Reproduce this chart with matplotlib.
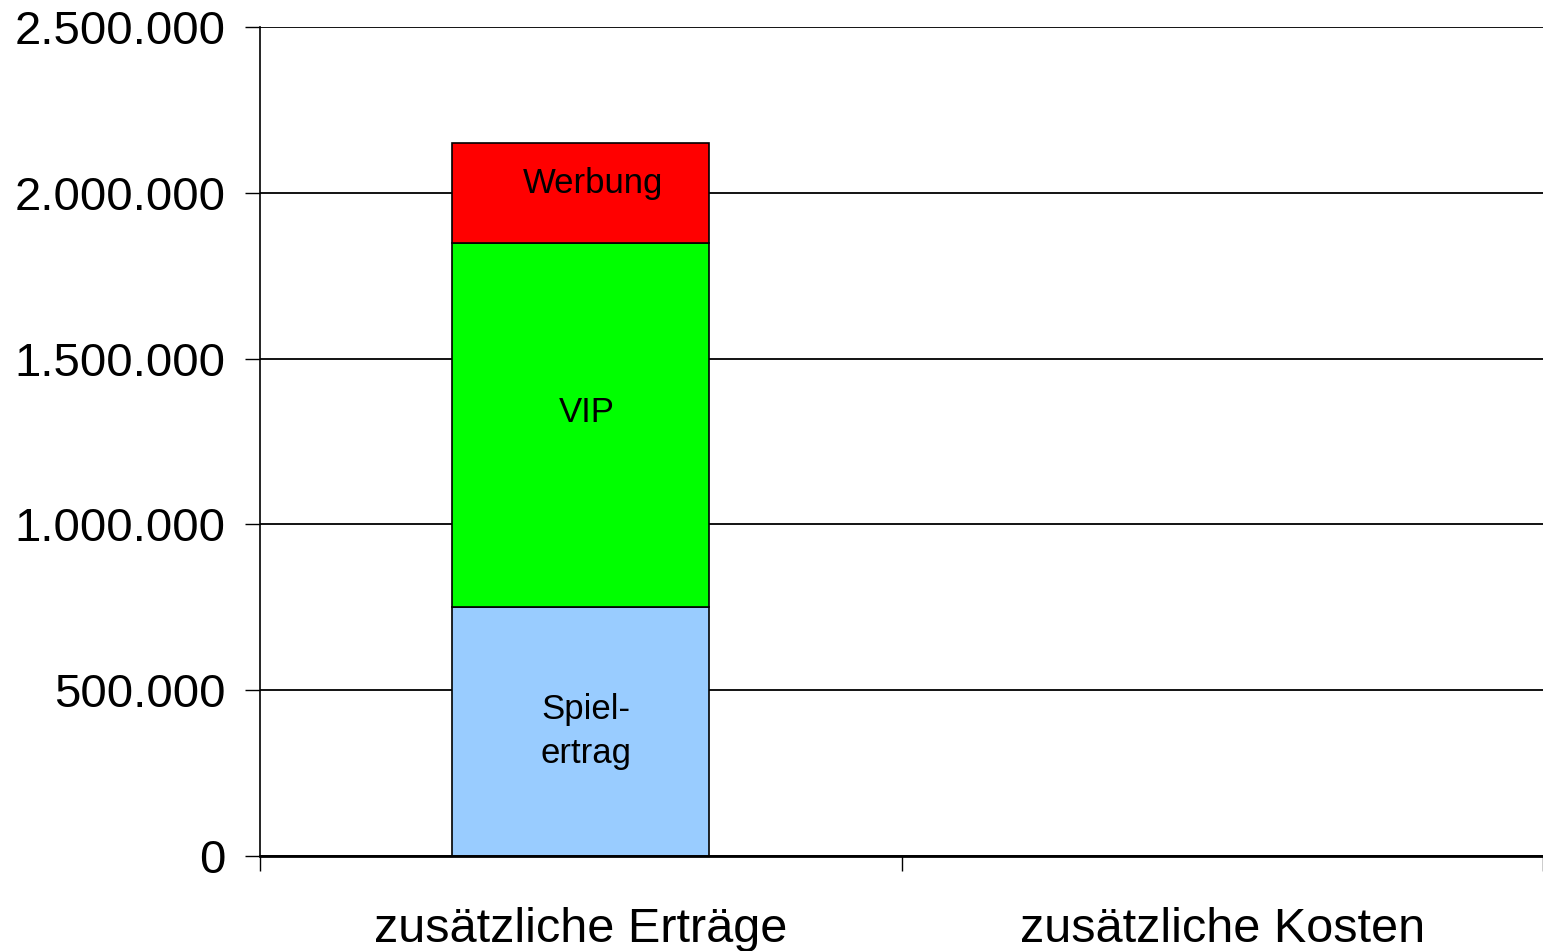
import matplotlib
matplotlib.use("Agg")
import matplotlib.pyplot as plt
from matplotlib.ticker import FuncFormatter, FixedLocator

categories = ["zusätzliche Erträge", "zusätzliche Kosten"]
segment_names = ["Spiel-\nertrag", "VIP", "Werbung"]
segment_values = [750000, 1100000, 300000]
segment_colors = ["#99ccff", "#00ff00", "#ff0000"]
y_ticks = [0, 500000, 1000000, 1500000, 2000000, 2500000]

plt.rcParams["font.family"] = ["Liberation Sans", "DejaVu Sans"]

fig = plt.figure(figsize=(15.43, 9.51), dpi=100)
ax = fig.add_axes([260 / 1543, 1 - 856 / 951, 1 - 260 / 1543, (856 - 27) / 951])

# label nudges in points, to sit like the original labels
label_offsets = [(3.5, 0), (4, 9), (8.5, 6.5)]

bottom = 0
for name, val, col, off in zip(segment_names, segment_values, segment_colors, label_offsets):
    ax.bar(0, val, width=0.4, bottom=bottom, color=col, edgecolor="black",
           linewidth=1.2, zorder=3)
    ax.annotate(name, (0, bottom + val / 2), xytext=off, textcoords="offset points",
                ha="center", va="center", fontsize=25, zorder=4, linespacing=1.45)
    bottom += val

ax.set_xlim(-0.5, 1.5)
ax.set_ylim(0, 2500000)
ax.set_yticks(y_ticks)
ax.yaxis.set_major_formatter(FuncFormatter(lambda v, p: f"{int(v):,}".replace(",", ".")))
ax.set_xticks([0, 1])
ax.set_xticklabels(categories)
ax.xaxis.set_minor_locator(FixedLocator([-0.5, 0.5, 1.5]))

ax.tick_params(axis="y", labelsize=34, length=11, width=1, pad=14, direction="out")
ax.tick_params(axis="x", which="major", labelsize=35, length=0, pad=37)
ax.tick_params(axis="x", which="minor", length=11, width=1, direction="out")

ax.grid(axis="y", color="black", linewidth=1.3, zorder=0)
ax.set_axisbelow(True)
for s in ["top", "right"]:
    ax.spines[s].set_visible(False)
ax.spines["left"].set_linewidth(1.2)
ax.spines["bottom"].set_linewidth(2)
ax.spines["bottom"].set_zorder(5)

fig.savefig("out.png", dpi=100)
